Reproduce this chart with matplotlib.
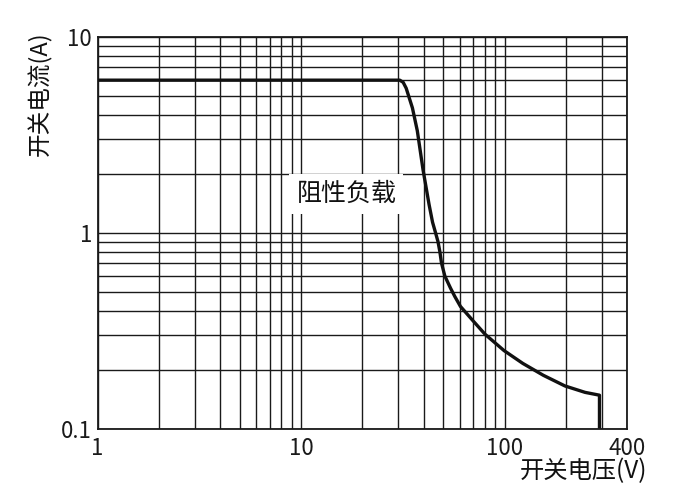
import matplotlib
matplotlib.use("Agg")
import matplotlib.pyplot as plt
from matplotlib.ticker import FixedLocator, NullFormatter, LogLocator

plt.rcParams['font.family'] = ['Noto Sans CJK SC', 'DejaVu Sans']

# curve
voltage = [1, 30.5, 31.7, 32.8, 35.2, 37.2, 39.7, 42.5, 44.2, 45.7, 47.0,
           48.0, 48.9, 50.8, 54.2, 56.8, 60.6, 70.0, 80.0, 99.2, 122.7,
           154.7, 197.5, 248, 292, 292]
current = [6.0, 6.0, 5.85, 5.46, 4.33, 3.31, 2.09, 1.39, 1.13, 1.0, 0.9,
           0.8, 0.7, 0.6, 0.52, 0.473, 0.42, 0.354, 0.303, 0.250, 0.215,
           0.187, 0.165, 0.153, 0.148, 0.1]

x_ticks = [1, 10, 100, 400]
x_labels = ["1", "10", "100", "400"]
y_ticks = [0.1, 1, 10]
y_labels = ["0.1", "1", "10"]

fig = plt.figure(figsize=(6.97, 4.96), dpi=100)
ax = fig.add_axes([0.140, 0.136, 0.760, 0.790])

ax.plot(voltage, current, color="#111111", lw=2.4, solid_capstyle="butt",
        solid_joinstyle="round", zorder=5)

ax.set_xscale("log")
ax.set_yscale("log")
ax.set_xlim(1, 400)
ax.set_ylim(0.1, 10)

ax.xaxis.set_minor_locator(LogLocator(base=10, subs=range(2, 10)))
ax.yaxis.set_minor_locator(LogLocator(base=10, subs=range(2, 10)))
ax.xaxis.set_major_locator(FixedLocator(x_ticks))
ax.yaxis.set_major_locator(FixedLocator(y_ticks))
ax.set_xticklabels(x_labels)
ax.set_yticklabels(y_labels)
ax.xaxis.set_minor_formatter(NullFormatter())
ax.yaxis.set_minor_formatter(NullFormatter())

ax.grid(which="both", color="#1a1a1a", lw=1.0)
ax.tick_params(which="both", length=0, labelsize=16, colors="#1a1a1a")
ax.tick_params(axis="x", pad=6)
ax.tick_params(axis="y", pad=4)
for s in ax.spines.values():
    s.set_linewidth(1.3)
    s.set_color("#1a1a1a")

ax.text(16.7, 1.57, "阻性负载", fontsize=18, ha="center", va="center",
        color="#111111", zorder=4,
        bbox=dict(facecolor="white", edgecolor="none", pad=5))

fig.text(0.057, 0.812, "开关电流(A)", rotation=90, fontsize=17,
         ha="center", va="center", color="#111111")
fig.text(0.837, 0.050, "开关电压(V)", fontsize=17.5,
         ha="center", va="center", color="#111111")

plt.savefig("out.png", dpi=100)
